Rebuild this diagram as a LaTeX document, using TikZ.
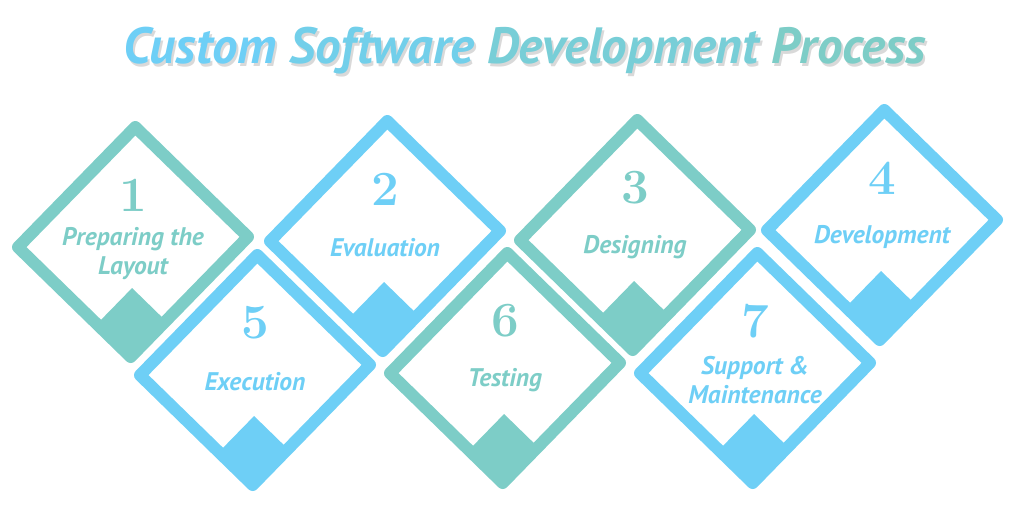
\documentclass[tikz,border=0pt]{standalone}
\usepackage{fontspec}
\setsansfont{PT Sans}
\usetikzlibrary{positioning, calc}

\definecolor{procteal}{RGB}{125,205,199}
\definecolor{procsky}{RGB}{110,207,246}

\begin{document}
\begin{tikzpicture}[x=0.02cm, y=-0.02cm,
    ring/.style={line width=0.24cm, line join=round},
    numtext/.style={font=\fontsize{28}{28}\selectfont\bfseries},
    labtext/.style={font=\sffamily\bfseries\itshape\fontsize{14.5}{16.5}\selectfont, align=center},
    titletext/.style={font=\sffamily\bfseries\itshape\fontsize{29}{32}\selectfont, anchor=base}]
  \useasboundingbox (0,0) rectangle (1024,512);

  % Title with soft shadow
  \node[titletext, gray!30] (titleshadow) at (527,66) {Custom Software Development Process};
  \node[titletext] (title) at (525,63) {\textcolor{procsky}{Custom} \textcolor{procsky!75!procteal}{Software} \textcolor{procsky!35!procteal}{Development} \textcolor{procteal}{Process}};

  % Steps: number, centre, colour, label
  \foreach \n/\cx/\cy/\col/\lab in {1/133/242/procteal/{Preparing the\\Layout},
      2/385/236/procsky/{Evaluation}, 3/635/235/procteal/{Designing},
      4/882/225/procsky/{Development}, 5/255/370/procsky/{Execution},
      6/505/368/procteal/{Testing}, 7/755/368/procsky/{Support \&\\Maintenance}} {
    \begin{scope}[shift={(\cx,\cy)}]
      \begin{scope}[cm={1,0.045,0.02,1,(0,0)}]
        \fill[\col] (0,46) -- (34.5,80.5) -- (0,115) -- (-34.5,80.5) -- cycle;
        \draw[ring, \col] (0,-115) -- (115,0) -- (0,115) -- (-115,0) -- cycle;
      \end{scope}
      \node[numtext, \col] (num\n) at (0,-47) {\n};
      \node[labtext, \col] (lab\n) at (0,12) {\lab};
    \end{scope}
  }
\end{tikzpicture}
\end{document}
